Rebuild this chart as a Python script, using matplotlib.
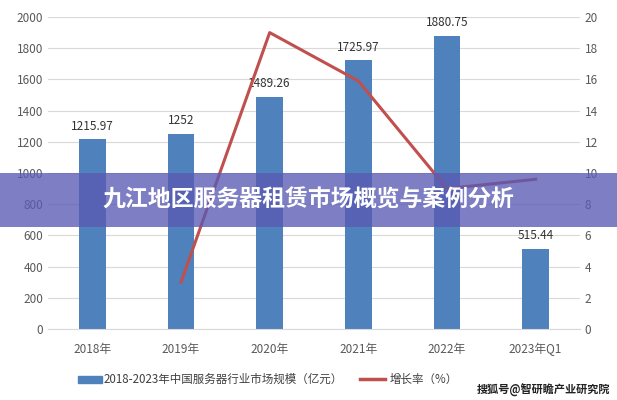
import matplotlib
matplotlib.use("Agg")
import matplotlib.pyplot as plt
from matplotlib import font_manager as fm
from matplotlib.patches import Rectangle
from matplotlib.lines import Line2D

cjk = None
for f in fm.findSystemFonts():
    if "NotoSansCJK" in f.replace(" ", "") or "NotoSansSC" in f or "CJK" in f:
        cjk = f
        if "Regular" in f:
            break
if cjk:
    fm.fontManager.addfont(cjk)
    name = fm.FontProperties(fname=cjk).get_name()
    plt.rcParams["font.family"] = [name, "DejaVu Sans"]

categories = ["2018年", "2019年", "2020年", "2021年", "2022年", "2023年Q1"]
market_size = [1215.97, 1252, 1489.26, 1725.97, 1880.75, 515.44]
size_labels = ["1215.97", "1252", "1489.26", "1725.97", "1880.75", "515.44"]
growth_cats = ["2019年", "2020年", "2021年", "2022年", "2023年Q1"]
growth_rate = [3.0, 19.0, 15.9, 9.0, 9.6]

fig = plt.figure(figsize=(6.17, 4.0), dpi=100)
ax = fig.add_axes([48/617, 71/400, 532/617, 312/400])
x = list(range(len(categories)))
ax.bar(x, market_size, width=0.3, color="#4f81bd", zorder=2)
for xi, v, s in zip(x, market_size, size_labels):
    ax.text(xi, v + 40, s, ha="center", va="bottom", fontsize=8.5, color="#333333")
ax.set_ylim(0, 2000)
ax.set_yticks(range(0, 2001, 200))
ax.set_xlim(-0.5, 5.5)
ax.set_xticks(x)
ax.set_xticklabels(categories)
ax.grid(axis="y", color="#d9d9d9", lw=0.8, zorder=0)
for sp in ["top", "left", "right"]:
    ax.spines[sp].set_visible(False)
ax.spines["bottom"].set_color("#d9d9d9")
ax.tick_params(length=0, labelsize=8.5, colors="#595959")
ax.tick_params(axis="x", pad=10)

ax2 = ax.twinx()
gx = [categories.index(c) for c in growth_cats]
ax2.plot(gx, growth_rate, color="#c0504d", lw=2.2, zorder=3)
ax2.set_ylim(0, 20)
ax2.set_yticks(range(0, 21, 2))
for sp in ["top", "left", "right", "bottom"]:
    ax2.spines[sp].set_visible(False)
ax2.tick_params(length=0, labelsize=8.5, colors="#595959")

# legend
fig.patches.append(Rectangle((78/617, 17/400), 24/617, 7/400, transform=fig.transFigure, color="#4f81bd"))
fig.text(104/617, 21/400, "2018-2023年中国服务器行业市场规模（亿元）", fontsize=8.3, va="center", color="#404040")
fig.lines.append(Line2D([360/617, 385/617], [21/400, 21/400], transform=fig.transFigure, color="#c0504d", lw=2.5))
fig.text(390/617, 21/400, "增长率（%）", fontsize=8.3, va="center", color="#404040")
fig.text(610/617, 10/400, "搜狐号@智研瞻产业研究院", fontsize=8, ha="right", va="center", color="#222222", fontweight="bold")

# banner
fig.patches.append(Rectangle((0, 173/400), 1, 54/400, transform=fig.transFigure, facecolor="#5a5ab4", edgecolor="none", alpha=0.78, zorder=10))
fig.text(0.5, 200/400, "九江地区服务器租赁市场概览与案例分析", fontsize=16.5, fontweight="bold", color="white", ha="center", va="center", zorder=11)

fig.savefig("out.png", dpi=100)
